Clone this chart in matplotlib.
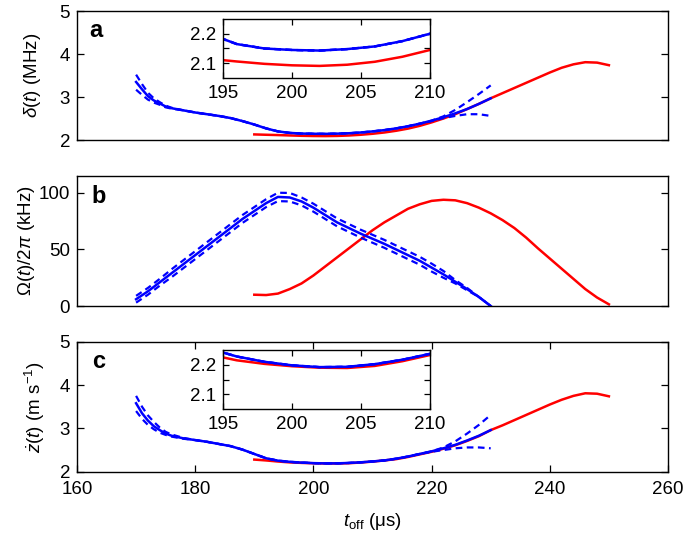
import matplotlib
matplotlib.use('Agg')
import matplotlib.pyplot as plt
from matplotlib.ticker import FixedLocator

plt.rcParams['font.family'] = ['Liberation Sans', 'DejaVu Sans']
plt.rcParams['mathtext.fontset'] = 'custom'
plt.rcParams['mathtext.rm'] = 'Liberation Sans'
plt.rcParams['mathtext.it'] = 'Liberation Sans:italic'
plt.rcParams['mathtext.bf'] = 'Liberation Sans:bold'

# --- blue (measured) time grid, panels a and c ---
t_blue = [170, 171, 172, 173, 174, 175, 176, 178, 180, 182, 184, 186, 188, 190,
          192, 194, 196, 198, 200, 202, 204, 206, 208, 210, 212, 214, 216, 218,
          220, 222, 224, 226, 228, 230]

delta_blue = [3.35, 3.18, 3.02, 2.92, 2.85, 2.78, 2.74, 2.69, 2.64, 2.60, 2.56, 2.51,
              2.44, 2.36, 2.27, 2.20, 2.165, 2.15, 2.145, 2.143, 2.148, 2.157, 2.175,
              2.20, 2.23, 2.27, 2.32, 2.38, 2.45, 2.53, 2.62, 2.72, 2.84, 2.97]
delta_blue_hi = [3.52, 3.30, 3.10, 2.97, 2.88, 2.80, 2.75, 2.69, 2.64, 2.60, 2.56, 2.51,
                 2.44, 2.36, 2.27, 2.20, 2.165, 2.15, 2.145, 2.143, 2.148, 2.157, 2.175,
                 2.20, 2.23, 2.27, 2.32, 2.38, 2.45, 2.55, 2.70, 2.88, 3.07, 3.27]
delta_blue_lo = [3.17, 3.05, 2.94, 2.87, 2.82, 2.76, 2.73, 2.69, 2.64, 2.60, 2.56, 2.51,
                 2.44, 2.36, 2.27, 2.20, 2.165, 2.15, 2.145, 2.143, 2.148, 2.157, 2.175,
                 2.20, 2.23, 2.27, 2.32, 2.38, 2.44, 2.51, 2.56, 2.60, 2.60, 2.56]

zdot_blue = [3.58, 3.35, 3.18, 3.05, 2.96, 2.88, 2.83, 2.77, 2.73, 2.69, 2.64, 2.59,
             2.51, 2.41, 2.31, 2.255, 2.228, 2.21, 2.198, 2.192, 2.193, 2.202, 2.217,
             2.237, 2.26, 2.30, 2.35, 2.41, 2.47, 2.54, 2.62, 2.72, 2.83, 2.96]
zdot_blue_hi = [3.75, 3.50, 3.30, 3.15, 3.02, 2.92, 2.86, 2.78, 2.73, 2.69, 2.64, 2.59,
                2.51, 2.41, 2.31, 2.255, 2.228, 2.21, 2.198, 2.192, 2.193, 2.202, 2.217,
                2.237, 2.26, 2.30, 2.35, 2.41, 2.47, 2.56, 2.70, 2.88, 3.08, 3.31]
zdot_blue_lo = [3.40, 3.22, 3.08, 2.98, 2.90, 2.85, 2.81, 2.76, 2.73, 2.69, 2.64, 2.59,
                2.51, 2.41, 2.31, 2.255, 2.228, 2.21, 2.198, 2.192, 2.193, 2.202, 2.217,
                2.237, 2.26, 2.30, 2.35, 2.41, 2.46, 2.50, 2.54, 2.56, 2.56, 2.54]

# --- blue time grid, panel b ---
t_blue_b = [170, 172, 174, 176, 178, 180, 182, 184, 186, 188, 190, 192, 194, 196,
            198, 200, 202, 204, 206, 208, 210, 212, 214, 216, 218, 220, 222, 224,
            226, 228, 230]
omega_blue = [6, 13, 21, 29, 37, 45, 53, 61, 69, 77, 84, 91, 96.5, 96, 92.5, 87, 80.5,
              74, 69, 64, 59.5, 55, 50, 45, 40, 34, 28, 21.5, 15, 8, 0]
omega_blue_hi = [9, 16, 24, 32.5, 40.5, 48.5, 56.5, 64.5, 72.5, 80.5, 87.5, 94.5, 100.2,
                 100, 96, 90.5, 84, 77.5, 72.5, 67.5, 63, 58.5, 53.5, 48.5, 43.5, 37.5,
                 31, 23, 16, 8, 0]
omega_blue_lo = [3, 10, 18, 25.5, 33.5, 41.5, 49.5, 57.5, 65.5, 73.5, 80.5, 87.5, 92.8,
                 92.5, 89, 83.5, 77, 70.5, 65.5, 60.5, 56, 51.5, 46.5, 41.5, 36.5, 30.5,
                 25, 20, 14, 8, 0]

# --- red (model) time grid, all panels ---
t_red = [190, 192, 194, 196, 198, 200, 202, 204, 206, 208, 210, 212, 214, 216, 218,
         220, 222, 224, 226, 228, 230, 232, 234, 236, 238, 240, 242, 244, 246, 248, 250]
delta_red = [2.13, 2.122, 2.115, 2.106, 2.098, 2.093, 2.091, 2.095, 2.105, 2.122, 2.145,
             2.175, 2.215, 2.265, 2.33, 2.41, 2.50, 2.60, 2.72, 2.84, 2.97, 3.09, 3.21,
             3.33, 3.45, 3.57, 3.68, 3.76, 3.81, 3.80, 3.74]
omega_red = [10, 9.7, 11, 15, 20, 27, 35, 43, 51, 59, 67, 74, 80, 86, 90, 93, 94, 93.5,
             91, 87, 82, 76, 69, 60.5, 51, 42, 33, 24, 15, 7.5, 1.5]
zdot_red = [2.28, 2.26, 2.235, 2.215, 2.203, 2.195, 2.19, 2.189, 2.196, 2.212, 2.233,
            2.26, 2.29, 2.34, 2.40, 2.46, 2.53, 2.61, 2.71, 2.82, 2.96, 3.07, 3.19, 3.31,
            3.43, 3.55, 3.66, 3.75, 3.81, 3.80, 3.74]

x_ticks = [160, 180, 200, 220, 240, 260]
inset_xticks = [195, 200, 205, 210]
inset_yticks = [2.1, 2.2]

BLUE = '#0000ff'
RED = '#ff0000'
LW = 1.8


def style_axes(ax, show_x):
    ax.tick_params(direction='in', length=5, width=0.9, labelsize=13.5,
                   right=True, top=show_x, bottom=show_x, labelbottom=show_x,
                   pad=5)
    ax.tick_params(axis='x', pad=7)
    for s in ax.spines.values():
        s.set_linewidth(1.0)
    if not show_x:
        ax.set_xticks([])


def draw_curves(ax, y_red, y_blue, y_hi, y_lo, tb):
    ax.plot(t_red, y_red, color=RED, lw=LW)
    ax.plot(tb, y_hi, color=BLUE, lw=LW - 0.2, ls=(0, (3, 2)))
    ax.plot(tb, y_lo, color=BLUE, lw=LW - 0.2, ls=(0, (3, 2)))
    ax.plot(tb, y_blue, color=BLUE, lw=LW)


def add_inset(fig, rect, y_red, y_blue, y_hi, y_lo):
    ins = fig.add_axes(rect)
    draw_curves(ins, y_red, y_blue, y_hi, y_lo, t_blue)
    ins.set_xlim(195, 210)
    ins.set_ylim(2.05, 2.25)
    ins.set_xticks(inset_xticks)
    ins.set_yticks(inset_yticks)
    ins.yaxis.set_minor_locator(FixedLocator([2.15]))
    ins.tick_params(which='both', direction='in', length=4, width=0.9,
                    labelsize=13.5, right=True, top=True, pad=5)
    for s in ins.spines.values():
        s.set_linewidth(1.0)
    return ins


fig = plt.figure(figsize=(6.85, 5.35), dpi=100)

L, W = 0.1124, 0.8628
ax_a = fig.add_axes([L, 0.7383, W, 0.2411])
ax_b = fig.add_axes([L, 0.4280, W, 0.2430])
ax_c = fig.add_axes([L, 0.1183, W, 0.2430])

# panel a
draw_curves(ax_a, delta_red, delta_blue, delta_blue_hi, delta_blue_lo, t_blue)
ax_a.set_xlim(160, 260)
ax_a.set_ylim(2, 5)
ax_a.set_yticks([2, 3, 4, 5])
style_axes(ax_a, False)
ax_a.set_ylabel(r'$\delta(t)$ (MHz)', fontsize=13.5, labelpad=12)
ax_a.text(0.032, 0.85, 'a', transform=ax_a.transAxes, fontsize=17,
          fontweight='bold', ha='center', va='center')

# panel b
draw_curves(ax_b, omega_red, omega_blue, omega_blue_hi, omega_blue_lo, t_blue_b)
ax_b.set_xlim(160, 260)
ax_b.set_ylim(0, 115)
ax_b.set_yticks([0, 50, 100])
style_axes(ax_b, False)
ax_b.set_ylabel(r'$\Omega(t)/2\pi$ (kHz)', fontsize=13.5, labelpad=1)
ax_b.text(0.036, 0.84, 'b', transform=ax_b.transAxes, fontsize=17,
          fontweight='bold', ha='center', va='center')

# panel c
draw_curves(ax_c, zdot_red, zdot_blue, zdot_blue_hi, zdot_blue_lo, t_blue)
ax_c.set_xlim(160, 260)
ax_c.set_ylim(2, 5)
ax_c.set_yticks([2, 3, 4, 5])
style_axes(ax_c, True)
ax_c.set_xticks(x_ticks)
ax_c.set_ylabel(r'$\dot{z}(t)$ (m s$^{-1}$)', fontsize=13.5, labelpad=9)
ax_c.set_xlabel(r'$t_{\mathrm{off}}$ (μs)', fontsize=13.5, labelpad=9)
ax_c.text(0.036, 0.85, 'c', transform=ax_c.transAxes, fontsize=17,
          fontweight='bold', ha='center', va='center')

# insets
add_inset(fig, [0.3255, 0.8542, 0.3022, 0.1103],
          delta_red, delta_blue, delta_blue_hi, delta_blue_lo)
add_inset(fig, [0.3255, 0.2355, 0.3022, 0.1103],
          zdot_red, zdot_blue, zdot_blue_hi, zdot_blue_lo)

fig.savefig('out.png', dpi=100)
